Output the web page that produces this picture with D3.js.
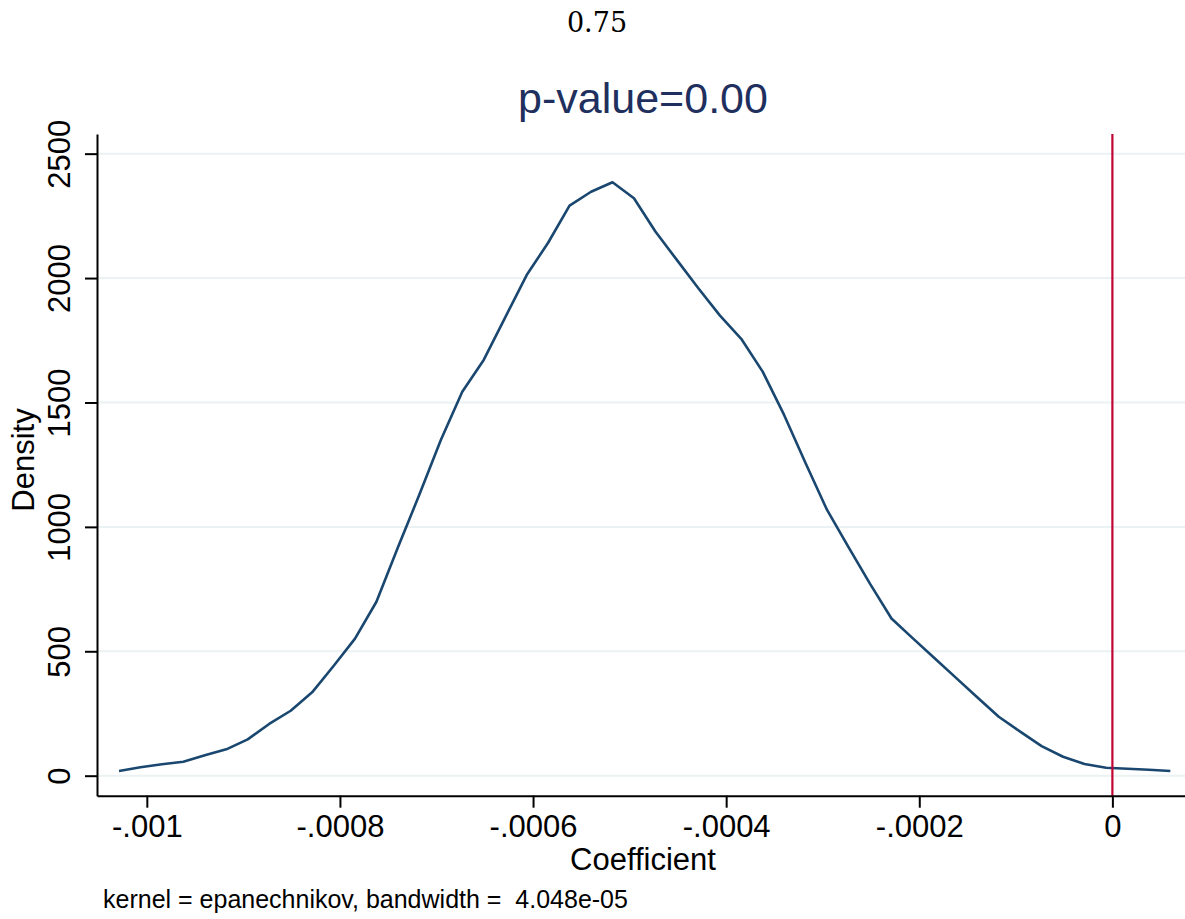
<!DOCTYPE html>
<html>
<head>
<meta charset="utf-8">
<script src="https://cdn.jsdelivr.net/npm/d3@7"></script>
<style>
  body { margin: 0; background: #fff; }
  text { font-family: "Liberation Sans", Arial, sans-serif; }
</style>
</head>
<body>
<script>
// kernel density evaluation points (coefficient) and estimated density
var coefX = [
  -0.0010288, -0.0010066, -0.0009844, -0.0009622, -0.0009399, -0.0009177, -0.0008955, -0.0008733,
  -0.0008510, -0.0008288, -0.0008066, -0.0007844, -0.0007622, -0.0007399, -0.0007177, -0.0006955,
  -0.0006733, -0.0006511, -0.0006288, -0.0006066, -0.0005844, -0.0005622, -0.0005399, -0.0005177,
  -0.0004955, -0.0004733, -0.0004511, -0.0004288, -0.0004066, -0.0003844, -0.0003622, -0.0003400,
  -0.0003177, -0.0002955, -0.0002733, -0.0002511, -0.0002288, -0.0002066, -0.0001844, -0.0001622,
  -0.0001400, -0.0001177, -0.0000955, -0.0000733, -0.0000511, -0.0000289, -0.0000066, 0.0000156,
  0.0000378, 0.0000600
];
var density = [
  19, 34, 46, 56, 82, 106, 146, 208, 261, 335, 441, 551, 699, 918, 1130, 1349,
  1543, 1671, 1842, 2012, 2142, 2291, 2347, 2385, 2321, 2187, 2073, 1959, 1850, 1756, 1624, 1450,
  1256, 1068, 919, 772, 632, 552, 473, 394, 315, 237, 177, 119, 76, 47, 32, 28,
  24, 19
];
var xTicks = [-0.001, -0.0008, -0.0006, -0.0004, -0.0002, 0];
var yTicks = [0, 500, 1000, 1500, 2000, 2500];
var refLine = 0;
var topNote = "0.75";
var title = "p-value=0.00";
var xLabel = "Coefficient";
var yLabel = "Density";
var note = "kernel = epanechnikov, bandwidth =  4.048e-05";

var width = 1185,
    height = 919;

var navy = "#1a476f",
    titleCol = "#1f2f5e",
    red = "#c10534",
    grid = "#eaf2f3";

var svg = d3.select("body").append("svg")
    .attr("width", width)
    .attr("height", height);

var x = d3.scaleLinear()
    .domain([-0.0010516, 0.0000752])
    .range([97, 1185]);

var y = d3.scaleLinear()
    .domain([-80.4, 2579])
    .range([795.7, 134]);

// gridlines
svg.append("g")
    .selectAll("line")
    .data(yTicks)
    .enter().append("line")
    .attr("x1", 98)
    .attr("x2", width)
    .attr("y1", function(d) { return y(d); })
    .attr("y2", function(d) { return y(d); })
    .style("stroke", grid)
    .style("stroke-width", 2);

// density curve
var pts = coefX.map(function(v, i) { return [v, density[i]]; });
var line = d3.line()
    .x(function(d) { return x(d[0]); })
    .y(function(d) { return y(d[1]); });

svg.append("path")
    .datum(pts)
    .attr("d", line)
    .style("fill", "none")
    .style("stroke", navy)
    .style("stroke-width", 2.6)
    .style("stroke-linejoin", "round");

// reference line at zero
svg.append("line")
    .attr("x1", x(refLine))
    .attr("x2", x(refLine))
    .attr("y1", y.range()[1])
    .attr("y2", y.range()[0])
    .style("stroke", red)
    .style("stroke-width", 2.2);

function fmtX(d) {
    if (d === 0) return "0";
    return "-" + String(+Math.abs(d).toFixed(4)).replace(/^0/, "");
}

// x axis
var xAxis = svg.append("g")
    .attr("transform", "translate(0," + y.range()[0] + ")")
    .call(d3.axisBottom(x).tickValues(xTicks).tickSize(12).tickSizeOuter(0).tickFormat(fmtX));
xAxis.select(".domain").style("stroke", "#000").style("stroke-width", 2);
xAxis.selectAll(".tick line").style("stroke", "#000").style("stroke-width", 2);
xAxis.selectAll(".tick text")
    .attr("y", 41)
    .attr("dy", null)
    .style("font-size", "31px")
    .style("fill", "#000")
    .style("font-family", "'Liberation Sans', Arial, sans-serif");

// y axis
var yAxis = svg.append("g")
    .attr("transform", "translate(97,0)")
    .call(d3.axisLeft(y).tickValues(yTicks).tickSize(12).tickSizeOuter(0).tickFormat(d3.format("d")));
yAxis.select(".domain").style("stroke", "#000").style("stroke-width", 2);
yAxis.selectAll(".tick line").style("stroke", "#000").style("stroke-width", 2);
yAxis.selectAll(".tick text")
    .attr("x", null)
    .attr("dy", null)
    .attr("transform", "translate(-27,0) rotate(-90)")
    .attr("text-anchor", "middle")
    .style("font-size", "31px")
    .style("fill", "#000")
    .style("font-family", "'Liberation Sans', Arial, sans-serif");

// texts
svg.append("text")
    .attr("x", 597)
    .attr("y", 32)
    .attr("text-anchor", "middle")
    .style("font-family", "'DejaVu Serif', 'Liberation Serif', serif")
    .style("font-size", "27px")
    .text(topNote);

svg.append("text")
    .attr("x", 643)
    .attr("y", 113)
    .attr("text-anchor", "middle")
    .style("font-size", "43px")
    .style("fill", titleCol)
    .text(title);

svg.append("text")
    .attr("x", 643)
    .attr("y", 870)
    .attr("text-anchor", "middle")
    .style("font-size", "31px")
    .text(xLabel);

svg.append("text")
    .attr("transform", "translate(34,460) rotate(-90)")
    .attr("text-anchor", "middle")
    .style("font-size", "31px")
    .text(yLabel);

svg.append("text")
    .attr("x", 103)
    .attr("y", 908)
    .style("font-size", "25px")
    .style("white-space", "pre")
    .text(note);
</script>
</body>
</html>
